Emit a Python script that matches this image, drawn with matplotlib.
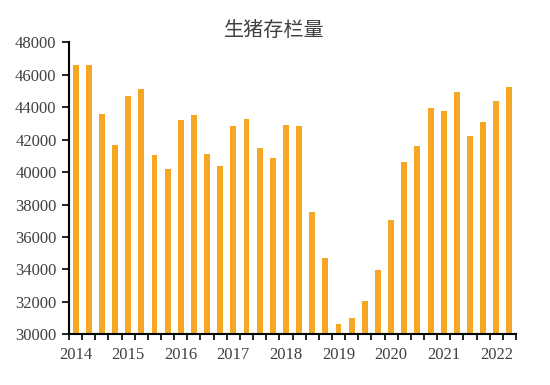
import matplotlib
matplotlib.use("Agg")
import matplotlib.pyplot as plt
import numpy as np

title = "生猪存栏量"
quarters = [f"{y}Q{q}" for y in range(2014, 2023) for q in range(1, 5)][:34]
values = [46580, 46600, 43570, 41700, 44670, 45100, 41080, 40200,
          43200, 43500, 41100, 40350, 42850, 43300, 41500, 40870,
          42900, 42850, 37520, 34720, 30620, 30990, 32070, 33980,
          37030, 40650, 41600, 43930, 43790, 44940, 42250, 43090,
          44400, 45265]
year_labels = ["2014", "2015", "2016", "2017", "2018", "2019", "2020", "2021", "2022"]
y_ticks = [30000, 32000, 34000, 36000, 38000, 40000, 42000, 44000, 46000, 48000]

fig = plt.figure(figsize=(5.5, 3.85), dpi=100)
ax = fig.add_axes([0.1255, 0.1317, 0.8127, 0.7584])
x = np.arange(len(values))
ax.bar(x, values, width=0.45, color="#F5A623", zorder=2)
ax.set_xlim(-0.5, len(values) - 0.5)
ax.set_ylim(30000, 48000)
ax.set_yticks(y_ticks)
ax.set_yticklabels([str(v) for v in y_ticks], family="Liberation Serif", fontsize=12, color="#404040")
ax.set_xticks(np.arange(-0.5, len(values), 1.0))
ax.set_xticklabels([])
ax.set_xticks(np.arange(0, len(values), 4), minor=True)
ax.set_xticklabels(year_labels, minor=True, family="Liberation Serif", fontsize=12, color="#404040")
ax.tick_params(axis="x", which="major", length=4, width=1.2, direction="out", color="black")
ax.tick_params(axis="x", which="minor", length=0, pad=9)
ax.tick_params(axis="y", length=5, width=1.2, direction="out", color="black", pad=4)
for s in ["top", "right"]:
    ax.spines[s].set_visible(False)
for s in ["left", "bottom"]:
    ax.spines[s].set_linewidth(1.5)
    ax.spines[s].set_color("black")
fig.text(0.499, 0.922, title, ha="center", va="center", fontsize=14.5, color="#404040",
         family=["Noto Sans CJK SC", "DejaVu Sans"])
fig.savefig("out.png", dpi=100)
